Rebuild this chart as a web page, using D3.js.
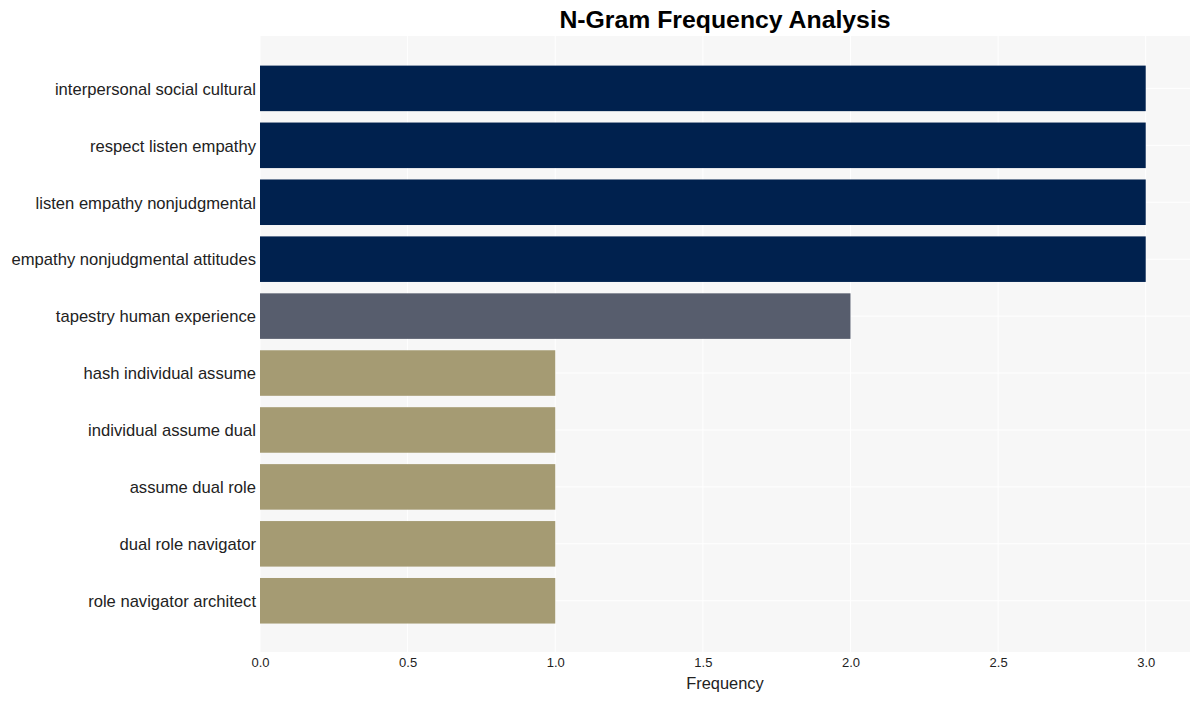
<!DOCTYPE html>
<html>
<head>
<meta charset="utf-8">
<script src="https://cdn.jsdelivr.net/npm/d3@7"></script>
<style>
  body { margin: 0; background: #fff; }
  svg { font-family: "Liberation Sans", Arial, sans-serif; }
</style>
</head>
<body>
<svg id="chart" width="1200" height="701"></svg>
<script>
const labels = [
  "interpersonal social cultural",
  "respect listen empathy",
  "listen empathy nonjudgmental",
  "empathy nonjudgmental attitudes",
  "tapestry human experience",
  "hash individual assume",
  "individual assume dual",
  "assume dual role",
  "dual role navigator",
  "role navigator architect"
];
const counts = [3, 3, 3, 3, 2, 1, 1, 1, 1, 1];
const xTicks = [0, 0.5, 1, 1.5, 2, 2.5, 3];
const barColor = { 3: "#00214e", 2: "#575d6d", 1: "#a59b73" };

const svg = d3.select("#chart");
const W = 1200, H = 701;
const margin = { top: 36, right: 10, bottom: 49, left: 260 };

const x = d3.scaleLinear()
  .domain([0, 3.15])
  .range([margin.left, W - margin.right]);

// category index on a continuous scale so the padding above/below matches
const y = d3.scaleLinear()
  .domain([-0.92, labels.length - 0.1])
  .range([margin.top, H - margin.bottom]);
const step = y(1) - y(0);
const barH = step * 0.8;

svg.append("rect")
  .attr("x", margin.left)
  .attr("y", margin.top)
  .attr("width", W - margin.left - margin.right)
  .attr("height", H - margin.top - margin.bottom)
  .attr("fill", "#f7f7f7");

// gridlines
svg.append("g")
  .selectAll("line")
  .data(xTicks)
  .enter()
  .append("line")
  .attr("x1", d => x(d)).attr("x2", d => x(d))
  .attr("y1", margin.top).attr("y2", H - margin.bottom)
  .attr("stroke", "#fff").attr("stroke-width", 1);

svg.append("g")
  .selectAll("line")
  .data(labels)
  .enter()
  .append("line")
  .attr("x1", margin.left).attr("x2", W - margin.right)
  .attr("y1", (d, i) => y(i)).attr("y2", (d, i) => y(i))
  .attr("stroke", "#fff").attr("stroke-width", 1);

// bars
svg.append("g")
  .selectAll("rect")
  .data(labels)
  .enter()
  .append("rect")
  .attr("x", x(0))
  .attr("y", (d, i) => y(i) - barH / 2)
  .attr("width", (d, i) => x(counts[i]) - x(0))
  .attr("height", barH)
  .attr("fill", (d, i) => barColor[counts[i]]);

// y labels
svg.append("g")
  .selectAll("text")
  .data(labels)
  .enter()
  .append("text")
  .attr("x", margin.left - 4)
  .attr("y", (d, i) => y(i))
  .attr("dy", "0.38em")
  .attr("text-anchor", "end")
  .attr("font-size", 16.6)
  .attr("fill", "#222")
  .text(d => d);

// x axis
const xAxis = svg.append("g")
  .attr("transform", `translate(0,${H - margin.bottom})`)
  .call(d3.axisBottom(x).tickValues(xTicks).tickFormat(d3.format(".1f")).tickSize(0).tickPadding(6));
xAxis.select(".domain").remove();
xAxis.selectAll("text")
  .attr("font-size", 13)
  .attr("fill", "#222")
  .attr("font-family", "'Liberation Sans', Arial, sans-serif");

svg.append("text")
  .attr("x", (margin.left + W - margin.right) / 2)
  .attr("y", 689)
  .attr("text-anchor", "middle")
  .attr("font-size", 16.4)
  .attr("fill", "#222")
  .text("Frequency");

svg.append("text")
  .attr("x", (margin.left + W - margin.right) / 2)
  .attr("y", 28)
  .attr("text-anchor", "middle")
  .attr("font-size", 24.8)
  .attr("font-weight", "bold")
  .attr("fill", "#000")
  .text("N-Gram Frequency Analysis");
</script>
</body>
</html>
